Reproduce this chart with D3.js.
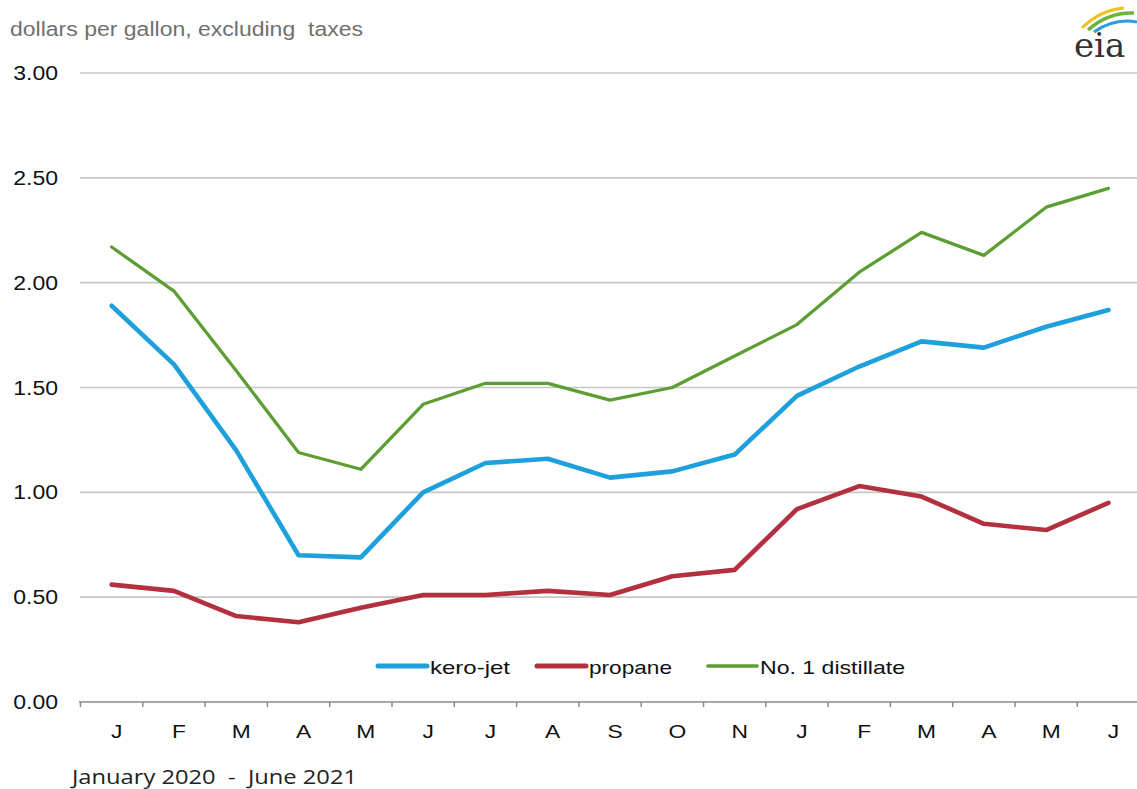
<!DOCTYPE html>
<html><head><meta charset="utf-8">
<script src="https://cdn.jsdelivr.net/npm/d3@7"></script>
<style>body{margin:0;background:#fff}svg{display:block}</style>
</head><body>
<svg id="c" width="1137" height="789"></svg>
<script>
const months = ["J","F","M","A","M","J","J","A","S","O","N","J","F","M","A","M","J"];
const keroJet = [1.89,1.61,1.20,0.70,0.69,1.00,1.14,1.16,1.07,1.10,1.18,1.46,1.60,1.72,1.69,1.79,1.87];
const propane = [0.56,0.53,0.41,0.38,0.45,0.51,0.51,0.53,0.51,0.60,0.63,0.92,1.03,0.98,0.85,0.82,0.95];
const distillate = [2.17,1.96,1.58,1.19,1.11,1.42,1.52,1.52,1.44,1.50,1.65,1.80,2.05,2.24,2.13,2.36,2.45];
const yTicks = [0,0.5,1,1.5,2,2.5,3];
const seriesNames = ["kero-jet","propane","No. 1 distillate"];
const colors = ["#1ea0dc","#b3303f","#5c9e32"];
const widths = [4.6,4.6,3.3];

const svg = d3.select("#c");
const font = "'Liberation Sans', Arial, sans-serif";
const x = d3.scaleBand().domain(d3.range(months.length)).range([80.5, 80.5 + 62.3*17]);
const y = d3.scaleLinear().domain([0,3]).range([702,73]);

function stretch(sel, f){
  sel.each(function(){
    const l = this.getComputedTextLength();
    d3.select(this).attr("textLength", l*f).attr("lengthAdjust","spacingAndGlyphs");
  });
}
function fitTo(sel, w){
  sel.attr("textLength", w).attr("lengthAdjust","spacingAndGlyphs");
}

// gridlines
svg.append("g").selectAll("line").data(yTicks.filter(d=>d>0)).join("line")
  .attr("x1",80).attr("x2",1137).attr("y1",d=>y(d)).attr("y2",d=>y(d))
  .attr("stroke","#c6c6c6").attr("stroke-width",1.6);

// y labels (right-aligned at x=58)
const yl = svg.append("g").selectAll("text").data(yTicks).join("text")
  .attr("y",d=>y(d)+7)
  .attr("font-family",font).attr("font-size",20).attr("fill","#111")
  .text(d=>d3.format(".2f")(d));
yl.each(function(){
  const l = this.getComputedTextLength()*1.15;
  d3.select(this).attr("x", 58 - l).attr("textLength", l).attr("lengthAdjust","spacingAndGlyphs");
});

// x axis
const xa = svg.append("g");
xa.append("line").attr("x1",79).attr("x2",1137).attr("y1",702).attr("y2",702).attr("stroke","#8a8a8a").attr("stroke-width",1.6);
xa.selectAll("line.t").data(d3.range(months.length+1)).join("line").attr("class","t")
  .attr("x1",d=>80.5+62.3*d).attr("x2",d=>80.5+62.3*d).attr("y1",702).attr("y2",707)
  .attr("stroke","#8a8a8a").attr("stroke-width",1.5);
const xl = xa.selectAll("text").data(months).join("text")
  .attr("y",738)
  .attr("font-family",font).attr("font-size",19).attr("fill","#111").text(d=>d);
xl.each(function(d,i){
  const l = this.getComputedTextLength()*1.2;
  const cx = x(i)+x.bandwidth()/2+5;
  d3.select(this).attr("x", cx - l/2).attr("textLength", l).attr("lengthAdjust","spacingAndGlyphs");
});

// lines
const line = d3.line().x((d,i)=>x(i)+x.bandwidth()/2).y(d=>y(d));
[keroJet,propane,distillate].forEach((s,k)=>{
  svg.append("path").datum(s).attr("d",line).attr("fill","none")
    .attr("stroke",colors[k]).attr("stroke-width",widths[k])
    .attr("stroke-linejoin","round").attr("stroke-linecap","round");
});

// legend
const legX = [378,537,708];
const legW = [80,83,145];
seriesNames.forEach((n,k)=>{
  svg.append("line").attr("x1",legX[k]).attr("x2",legX[k]+49).attr("y1",666).attr("y2",666)
    .attr("stroke",colors[k]).attr("stroke-width",widths[k]+0.4).attr("stroke-linecap","round");
  svg.append("text").attr("x",legX[k]+52).attr("y",674).attr("font-family",font)
    .attr("font-size",18.5).attr("fill","#111").text(n).call(fitTo, legW[k]);
});

// title
svg.append("text").attr("x",10).attr("y",36).attr("font-family",font).attr("font-size",20)
  .attr("fill","#707070").attr("xml:space","preserve").text("dollars per gallon, excluding  taxes")
  .call(fitTo, 353);

// bottom note
svg.append("text").attr("x",72).attr("y",784).attr("font-family","'Open Sans', 'Liberation Sans', sans-serif")
  .attr("font-size",20).attr("fill","#222").attr("xml:space","preserve").text("January 2020  -  June 2021")
  .call(fitTo, 285);

// eia logo
const logo = svg.append("g");
logo.append("path").attr("d","M1082,28 Q1100,10 1124,8").attr("fill","none").attr("stroke","#f2c01c").attr("stroke-width",3);
logo.append("path").attr("d","M1088,30 Q1108,12 1134,13").attr("fill","none").attr("stroke","#6cb33f").attr("stroke-width",3.5);
logo.append("path").attr("d","M1094,32 Q1114,18 1137,22").attr("fill","none").attr("stroke","#2c9fd9").attr("stroke-width",3);
logo.append("text").attr("x",1074).attr("y",57).attr("font-family","'DejaVu Serif','Liberation Serif',serif")
  .attr("font-size",34).attr("fill","#333").text("eia");
</script>
</body></html>
